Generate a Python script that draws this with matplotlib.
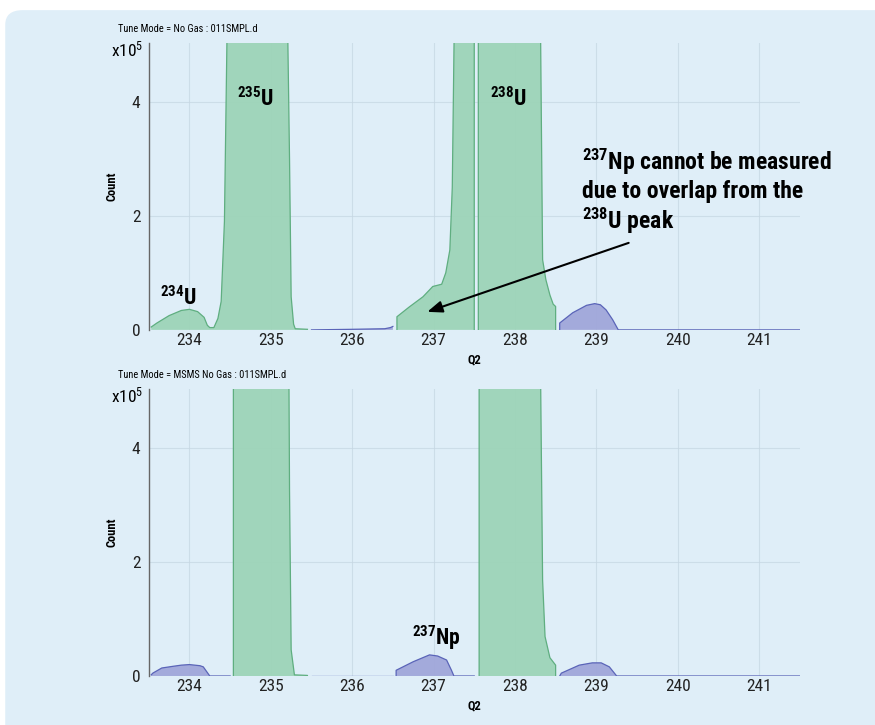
import numpy as np
import matplotlib.pyplot as plt
from matplotlib import font_manager
from matplotlib.patches import FancyBboxPatch

# pick a narrow font if one is installed
names = {f.name for f in font_manager.fontManager.ttflist}
narrow = [n for n in ['Roboto Condensed', 'Liberation Sans Narrow', 'DejaVu Sans Condensed'] if n in names]
base = narrow[0] if narrow else 'Liberation Sans'
plt.rcParams['font.family'] = [base, 'DejaVu Sans']
plt.rcParams['mathtext.default'] = 'regular'

GREEN = '#9dd4b8'
GREEN_EDGE = '#5fae80'
BLUE = '#a0a7da'
BLUE_EDGE = '#5a64b8'
BG = '#dfeef8'

# Top: No Gas mode (values in units of 1e5 counts, clipped peaks go above 5)
top_segments = [
    ('g', [233.53, 233.6, 233.75, 233.9, 234.0, 234.1, 234.18, 234.22, 234.25, 234.3, 234.35, 234.39,
           234.43, 234.47, 234.5, 235.2, 235.23, 235.25, 235.28, 235.3, 235.45],
          [0.05, 0.12, 0.25, 0.34, 0.36, 0.32, 0.22, 0.08, 0.04, 0.04, 0.2, 0.5,
           1.9, 6.0, 6.0, 6.0, 3.0, 0.58, 0.1, 0.02, 0.01]),
    ('b', [235.5, 236.0, 236.4, 236.47, 236.5], [0.0, 0.01, 0.02, 0.04, 0.06]),
    ('g', [236.55, 236.55, 236.7, 236.87, 236.99, 237.1, 237.15, 237.2, 237.23, 237.26, 237.5, 237.5],
          [0.0, 0.23, 0.4, 0.58, 0.76, 0.8, 1.0, 1.4, 2.5, 6.0, 6.0, 0.0]),
    ('g', [237.55, 237.55, 238.31, 238.34, 238.38, 238.43, 238.47, 238.5, 238.5],
          [0.0, 6.0, 6.0, 1.23, 0.88, 0.61, 0.45, 0.41, 0.0]),
    ('b', [238.55, 238.55, 238.71, 238.88, 238.98, 239.05, 239.12, 239.2, 239.27, 241.5],
          [0.0, 0.12, 0.3, 0.43, 0.46, 0.44, 0.35, 0.18, 0.0, 0.0]),
]

# Bottom: MS/MS No Gas mode
bottom_segments = [
    ('b', [233.53, 233.55, 233.66, 233.8, 233.9, 234.0, 234.13, 234.17, 234.25, 234.5],
          [0.02, 0.05, 0.14, 0.17, 0.19, 0.2, 0.18, 0.16, 0.0, 0.0]),
    ('g', [234.54, 234.54, 235.22, 235.23, 235.25, 235.29, 235.45, 235.45],
          [0.0, 6.0, 6.0, 3.26, 0.46, 0.02, 0.01, 0.0]),
    ('b', [235.5, 236.5], [0.0, 0.0]),
    ('b', [236.54, 236.54, 236.75, 236.95, 237.05, 237.16, 237.22, 237.25, 237.5],
          [0.0, 0.1, 0.25, 0.37, 0.35, 0.28, 0.1, 0.0, 0.0]),
    ('g', [237.56, 237.56, 238.31, 238.34, 238.37, 238.43, 238.5, 238.5],
          [0.0, 6.0, 6.0, 1.68, 0.69, 0.32, 0.19, 0.0]),
    ('b', [238.55, 238.57, 238.79, 238.95, 239.06, 239.16, 239.25, 241.5],
          [0.0, 0.05, 0.19, 0.23, 0.23, 0.16, 0.0, 0.0]),
]

xticks = [234, 235, 236, 237, 238, 239, 240, 241]
yticks = [0, 2, 4]

k = 1.0 if narrow else 0.82  # shrink text if no narrow face

fig = plt.figure(figsize=(8.75, 7.25), dpi=100)
fig.patch.set_facecolor('white')
fig.patches.append(FancyBboxPatch((0.006, -0.05), 1.1, 1.036, boxstyle='round,pad=0,rounding_size=0.02',
                                  transform=fig.transFigure, facecolor=BG, edgecolor='none', zorder=-10))


def draw(ax, segments, title):
    ax.set_facecolor('none')
    for c, x, y in segments:
        fc, ec = (GREEN, GREEN_EDGE) if c == 'g' else (BLUE, BLUE_EDGE)
        ax.fill_between(x, y, 0, facecolor=fc, edgecolor='none', alpha=0.95, zorder=2)
        ax.plot(x, y, color=ec, lw=0.9, zorder=3)
    ax.set_xlim(233.5, 241.5)
    ax.set_ylim(0, 5.03)
    ax.set_xticks(xticks)
    ax.set_yticks(yticks)
    ax.tick_params(length=0, labelsize=12.5 * k, colors='#222222')
    ax.tick_params(axis='y', pad=6)
    ax.tick_params(axis='x', pad=2)
    ax.grid(True, color='#c5d6e2', lw=0.8, zorder=4, alpha=0.7)
    for s in ['top', 'right', 'bottom']:
        ax.spines[s].set_visible(False)
    ax.spines['left'].set_color('#666666')
    ax.spines['left'].set_linewidth(1.0)
    ax.set_xlabel('Q2', fontsize=9 * k, fontweight='bold')
    ax.set_ylabel('Count', fontsize=9 * k, fontweight='bold')
    ax.xaxis.set_label_coords(0.5, -0.082)
    ax.yaxis.set_label_coords(-0.047, 0.5)
    ax.text(-0.009, 0.976, r'x10$^{5}$', transform=ax.transAxes, ha='right', va='center', fontsize=12.5 * k)
    ax.text(-0.048, 1.03, title, transform=ax.transAxes, ha='left', va='bottom', fontsize=7.5 * k)


ax1 = fig.add_axes([0.170, 0.545, 0.744, 0.396])
ax2 = fig.add_axes([0.170, 0.0676, 0.744, 0.396])
draw(ax1, top_segments, 'Tune Mode = No Gas : 011SMPL.d')
draw(ax2, bottom_segments, 'Tune Mode = MSMS No Gas : 011SMPL.d')

lab = dict(fontsize=15.5 * k, fontweight='bold', ha='center', va='baseline', zorder=5)
ax1.text(234.81, 3.93, r'$^{235}$U', **lab)
ax1.text(237.92, 3.93, r'$^{238}$U', **lab)
ax1.text(233.87, 0.44, r'$^{234}$U', **lab)
ax2.text(237.03, 0.54, r'$^{237}$Np', **lab)

ax1.text(238.82, 1.77, '$^{237}$Np cannot be measured\ndue to overlap from the\n$^{238}$U peak',
         fontsize=17 * k, fontweight='bold', ha='left', va='baseline', linespacing=1.13, zorder=5)
ax1.annotate('', xy=(236.89, 0.3), xytext=(239.43, 1.54),
             arrowprops=dict(arrowstyle='-|>,head_length=0.9,head_width=0.35', color='black', lw=1.5), zorder=6)

fig.savefig('out.png', dpi=100, facecolor='white')
